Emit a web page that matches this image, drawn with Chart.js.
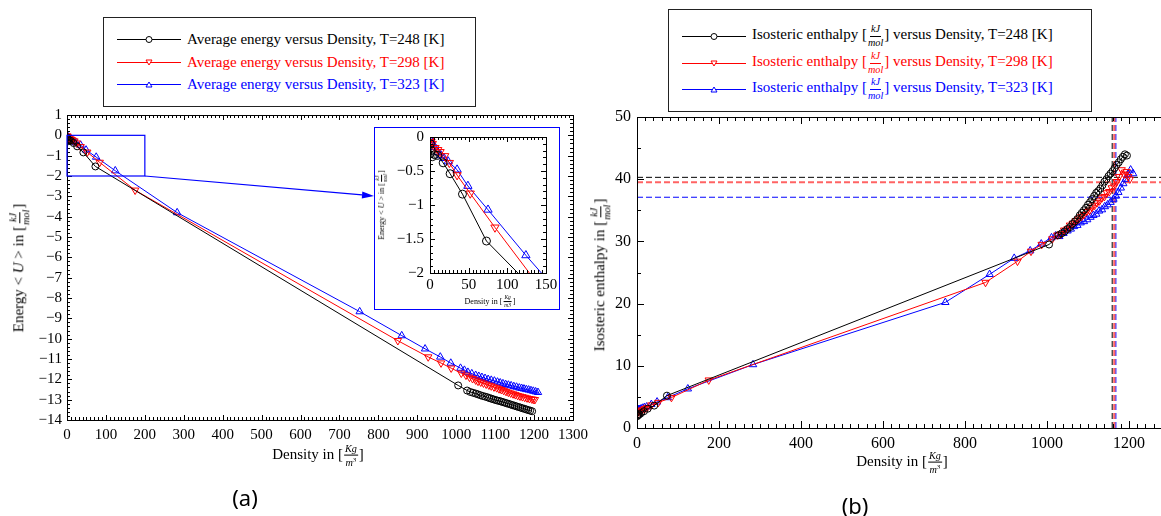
<!DOCTYPE html>
<html lang="de">
<head>
<meta charset="utf-8">
<title>Energie und isosterische Enthalpie</title>
<script src="https://cdn.jsdelivr.net/npm/chart.js@4.4.1/dist/chart.umd.min.js"></script>
<style>
  html, body { margin: 0; padding: 0; background: #fff; }
  body { position: relative; width: 1161px; height: 516px; overflow: hidden; font-family: 'Liberation Serif', 'Times New Roman', serif; color: #000; }
  canvas { position: absolute; }
  .legend { position: absolute; box-sizing: border-box; border: 1px solid #222; background: #fff; }
  .legend .row { position: absolute; left: 13px; height: 22px; display: flex; align-items: center; white-space: nowrap; font-size: 15px; }
  .legend svg { margin-right: 6px; }
  .frac { display: inline-flex; flex-direction: column; align-items: center; vertical-align: middle; font-size: 0.68em; line-height: 1; font-style: italic; margin: 0 1px; }
  .frac .num { border-bottom: 1px solid currentColor; padding: 0 1px 1px; }
  .frac .den { padding-top: 1px; }
  .title { position: absolute; white-space: nowrap; transform: translate(-50%, -50%); }
  .title.rot { transform: translate(-50%, -50%) rotate(-90deg); }
  .cap { position: absolute; font-family: 'Noto Sans', 'DejaVu Sans', sans-serif; font-size: 22px; transform: translate(-50%, -50%); }
  #insetBox { position: absolute; left: 374px; top: 127px; width: 186px; height: 183px; box-sizing: border-box; border: 1px solid #0000ff; background: #fff; }
</style>
</head>
<body>
<canvas id="chartA" style="left:0;top:105px" width="590" height="345"></canvas>
<canvas id="chartB" style="left:580px;top:105px" width="600" height="345"></canvas>

<div id="insetBox">
  <canvas id="chartInset" style="left:0;top:0" width="184" height="181"></canvas>
  <div class="title rot" style="left:7px;top:77px;font-size:8px">Energy &lt; <i>U</i> &gt; in [<span class="frac"><span class="num">kJ</span><span class="den">mol</span></span>]</div>
  <div class="title" style="left:115px;top:174px;font-size:8px">Density in [<span class="frac"><span class="num">Kg</span><span class="den">m3</span></span>]</div>
</div>

<div class="legend" id="legendA" style="left:103px;top:17px;width:373px;height:90px"></div>
<div class="legend" id="legendB" style="left:668px;top:9px;width:424px;height:103px"></div>

<div class="title rot" style="left:20px;top:268px;font-size:15px">Energy &lt; <i>U</i> &gt; in [<span class="frac"><span class="num">kJ</span><span class="den">mol</span></span>]</div>
<div class="title" style="left:318px;top:456px;font-size:15px">Density in [<span class="frac"><span class="num">Kg</span><span class="den">m<sup style="font-size:0.7em">3</sup></span></span>]</div>
<div class="title rot" style="left:601px;top:275px;font-size:15px">Isosteric enthalpy in [<span class="frac"><span class="num">kJ</span><span class="den">mol</span></span>]</div>
<div class="title" style="left:902px;top:463px;font-size:15px">Density in [<span class="frac"><span class="num">Kg</span><span class="den">m<sup style="font-size:0.7em">3</sup></span></span>]</div>

<div class="cap" style="left:245px;top:497px">(a)</div>
<div class="cap" style="left:855px;top:505px">(b)</div>

<script>
// Temperaturen und Farben
const temps = [248, 298, 323];
const colors = ['#000000', '#ff0000', '#0000ff'];

// T = 248 K : Dichte [kg/m3], Energie [kJ/mol], isosterische Enthalpie [kJ/mol]
const density248 = [0.5, 1.5, 3, 6, 10, 17, 26, 42, 73, 1005,
  1028, 1036, 1043, 1050, 1056, 1062, 1068, 1074, 1080, 1085,
  1090, 1095, 1100, 1105, 1110, 1115, 1120, 1125, 1130, 1135,
  1140, 1145, 1150, 1155, 1160, 1165, 1170, 1175, 1180, 1185, 1190, 1195];
const energy248 = [-0.1, -0.2, -0.29, -0.26, -0.27, -0.38, -0.54, -0.84, -1.53, -12.3,
  -12.55, -12.62, -12.66, -12.7, -12.74, -12.78, -12.82, -12.85, -12.88, -12.92,
  -12.95, -12.98, -13.01, -13.04, -13.06, -13.09, -13.12, -13.15, -13.18, -13.21,
  -13.24, -13.27, -13.3, -13.33, -13.36, -13.39, -13.42, -13.45, -13.48, -13.51, -13.54, -13.57];
const enthalpy248 = [1.9, 2.0, 2.1, 2.2, 2.4, 2.7, 3.1, 3.6, 5.2, 29.5,
  31.0, 31.3, 31.6, 32.0, 32.3, 32.8, 33.2, 33.6, 34.2, 34.6,
  35.0, 35.4, 35.9, 36.3, 36.8, 37.3, 37.8, 38.1, 38.5, 39.0,
  39.6, 40.0, 40.5, 40.9, 41.3, 41.8, 42.3, 42.7, 43.2, 43.6, 44.0, 43.8];

// T = 298 K
const density298 = [0.5, 1.3, 3, 6.5, 10, 13, 19, 25, 35, 52, 84, 175,
  850, 928, 961, 987,
  1013, 1025, 1034, 1042, 1050, 1056, 1063, 1070, 1077, 1084,
  1090, 1097, 1104, 1110, 1116, 1122, 1128, 1134, 1140, 1146,
  1152, 1158, 1164, 1170, 1176, 1182, 1188, 1194, 1198, 1202];
const energy298 = [-0.03, -0.07, -0.1, -0.16, -0.19, -0.22, -0.28, -0.38, -0.56, -0.83, -1.33, -2.7,
  -10.1, -10.9, -11.2, -11.45,
  -11.7, -11.8, -11.9, -11.97, -12.04, -12.1, -12.14, -12.19, -12.24, -12.29,
  -12.33, -12.38, -12.42, -12.47, -12.51, -12.55, -12.6, -12.64, -12.68, -12.72,
  -12.76, -12.8, -12.83, -12.86, -12.89, -12.92, -12.95, -12.97, -12.99, -13.0];
const enthalpy298 = [2.4, 2.5, 2.6, 2.7, 2.8, 2.9, 3.1, 3.3, 3.7, 4.1, 4.9, 7.7,
  23.4, 26.8, 28.4, 29.5,
  30.4, 31.0, 31.2, 31.8, 32.0, 32.6, 32.9, 33.3, 33.6, 34.0,
  34.3, 34.8, 35.0, 35.5, 35.8, 36.2, 36.5, 37.0, 37.2, 37.8,
  38.0, 38.6, 38.9, 39.6, 40.4, 41.5, 40.8, 41.2, 40.4, 40.0];

// T = 323 K
const density323 = [0.3, 1, 2, 3.5, 6, 10, 14, 18, 23.5, 35,
  49, 75, 124, 283,
  752, 860, 920, 959, 986,
  1011, 1021, 1030, 1040, 1050, 1058, 1066, 1074, 1082, 1090,
  1098, 1106, 1113, 1120, 1127, 1134, 1141, 1148, 1155, 1162,
  1168, 1174, 1180, 1186, 1192, 1198, 1204, 1210];
const energy323 = [-0.02, -0.04, -0.07, -0.1, -0.15, -0.22, -0.27, -0.31, -0.36, -0.48,
  -0.72, -1.07, -1.74, -3.8,
  -8.67, -9.85, -10.5, -10.9, -11.2,
  -11.45, -11.55, -11.65, -11.72, -11.8, -11.85, -11.9, -11.95, -12.0, -12.04,
  -12.08, -12.13, -12.17, -12.21, -12.25, -12.28, -12.31, -12.35, -12.38, -12.42,
  -12.44, -12.47, -12.5, -12.52, -12.55, -12.58, -12.61, -12.64];
const enthalpy323 = [2.7, 2.8, 2.9, 3.0, 3.0, 3.1, 3.2, 3.3, 3.4, 3.8,
  4.2, 4.9, 6.3, 10.2,
  20.2, 24.7, 27.3, 28.5, 29.6,
  30.6, 30.9, 30.8, 31.3, 31.7, 32.0, 32.4, 32.6, 33.0, 33.2,
  33.5, 33.9, 34.2, 34.4, 34.9, 35.1, 35.6, 35.9, 36.3, 36.8,
  37.3, 37.9, 38.6, 39.3, 40.0, 40.8, 41.5, 40.9];

// gestrichelte Referenzlinien in (b)
const refEnthalpy = [40.3, 39.5, 37.1];
const refDensity = [1159, 1164, 1168];

// Zoom-Rechteck in (a)
const zoomDensity = [0, 200];
const zoomEnergy = [-2, 0];

// Achsenbeschriftungen
const densityTicksA = [0, 100, 200, 300, 400, 500, 600, 700, 800, 900, 1000, 1100, 1200, 1300];
const energyTicksA = [1, 0, -1, -2, -3, -4, -5, -6, -7, -8, -9, -10, -11, -12, -13, -14];
const densityTicksInset = [0, 50, 100, 150];
const energyTicksInset = [0, -0.5, -1, -1.5, -2];
const densityTicksB = [0, 200, 400, 600, 800, 1000, 1200];
const enthalpyTicksB = [0, 10, 20, 30, 40, 50];

const densities = [density248, density298, density323];
const energies = [energy248, energy298, energy323];
const enthalpies = [enthalpy248, enthalpy298, enthalpy323];
const pointStyles = ['circle', 'triangle', 'triangle'];
const pointRotations = [0, 180, 0];

const SERIF = "'Liberation Serif', 'Times New Roman', serif";
const fmt = v => (v < 0 ? '\u2212' + Math.abs(v) : String(v));
const range = (a, b, step) => {
    const out = [];
    for (let v = a; v <= b + 1e-9; v += step) out.push(Math.round(v * 1000) / 1000);
    return out;
};
const toPoints = (xs, ys) => xs.map((x, i) => ({ x: x, y: ys[i] }));

function seriesSets(yArrays, radius) {
    return temps.map((t, i) => ({
        label: 'T=' + t + ' [K]',
        data: toPoints(densities[i], yArrays[i]),
        showLine: true,
        borderColor: colors[i],
        borderWidth: 1,
        backgroundColor: 'transparent',
        pointStyle: pointStyles[i],
        pointRotation: pointRotations[i],
        pointRadius: i === 0 ? radius : radius + 0.8,
        pointBorderWidth: 1,
        pointBorderColor: colors[i],
        pointBackgroundColor: 'transparent',
        tension: 0
    }));
}

// Rahmen + nach innen zeigende Ticks auf allen Seiten
const frameTicks = {
    id: 'frameTicks',
    afterDatasetsDraw(chart, args, o) {
        const { ctx, chartArea: a } = chart;
        const xs = chart.scales.x, ys = chart.scales.y;
        ctx.save();
        ctx.strokeStyle = '#000';
        ctx.lineWidth = 1;
        ctx.beginPath();
        const seg = (x1, y1, x2, y2) => { ctx.moveTo(x1, y1); ctx.lineTo(x2, y2); };
        const px = v => Math.round(xs.getPixelForValue(v)) + 0.5;
        const py = v => Math.round(ys.getPixelForValue(v)) + 0.5;
        o.xMinor.forEach(v => { const p = px(v); seg(p, a.bottom, p, a.bottom - o.minor); seg(p, a.top, p, a.top + o.minor); });
        o.xMajor.forEach(v => { const p = px(v); seg(p, a.bottom, p, a.bottom - o.major); seg(p, a.top, p, a.top + o.major); });
        o.yMinor.forEach(v => { const p = py(v); seg(a.left, p, a.left + o.minor, p); seg(a.right, p, a.right - o.minor, p); });
        o.yMajor.forEach(v => { const p = py(v); seg(a.left, p, a.left + o.major, p); seg(a.right, p, a.right - o.major, p); });
        ctx.stroke();
        ctx.lineWidth = o.frame || 1;
        ctx.strokeRect(Math.round(a.left) + 0.5, Math.round(a.top) + 0.5, Math.round(a.right - a.left), Math.round(a.bottom - a.top));
        ctx.restore();
    }
};

// blaues Rechteck + Pfeil zum Ausschnitt
const zoomMark = {
    id: 'zoomMark',
    afterDatasetsDraw(chart) {
        const { ctx, scales: { x, y } } = chart;
        const x0 = x.getPixelForValue(zoomDensity[0]), x1 = x.getPixelForValue(zoomDensity[1]);
        const y0 = y.getPixelForValue(zoomEnergy[1]), y1 = y.getPixelForValue(zoomEnergy[0]);
        ctx.save();
        ctx.strokeStyle = '#0000ff';
        ctx.fillStyle = '#0000ff';
        ctx.lineWidth = 1.2;
        ctx.strokeRect(x0, y0, x1 - x0, y1 - y0);
        const tipX = 374, tipY = 91;
        const ang = Math.atan2(tipY - y1, tipX - x1);
        const bx = tipX - 12 * Math.cos(ang), by = tipY - 12 * Math.sin(ang);
        ctx.beginPath();
        ctx.moveTo(x1, y1);
        ctx.lineTo(bx, by);
        ctx.stroke();
        ctx.beginPath();
        ctx.moveTo(tipX, tipY);
        ctx.lineTo(bx - 3.5 * Math.sin(ang), by + 3.5 * Math.cos(ang));
        ctx.lineTo(bx + 3.5 * Math.sin(ang), by - 3.5 * Math.cos(ang));
        ctx.closePath();
        ctx.fill();
        ctx.restore();
    }
};

function axis(min, max, ticks, fontSize, padding, fit) {
    return {
        type: 'linear',
        min: min,
        max: max,
        grid: { display: false, drawTicks: false },
        border: { display: false },
        ticks: {
            color: '#000',
            font: { family: SERIF, size: fontSize },
            padding: padding,
            maxRotation: 0,
            autoSkip: false,
            callback: v => fmt(v)
        },
        afterBuildTicks: s => { s.ticks = ticks.map(v => ({ value: v })); },
        afterFit: s => {
            if (fit.width !== undefined) s.width = fit.width;
            if (fit.height !== undefined) s.height = fit.height;
            s.paddingLeft = 0; s.paddingRight = 0; s.paddingTop = 0; s.paddingBottom = 0;
        }
    };
}

function baseOptions(padding, xAxis, yAxis, ticksOpt) {
    return {
        responsive: false,
        animation: false,
        layout: { padding: padding },
        scales: { x: xAxis, y: yAxis },
        plugins: { legend: { display: false }, tooltip: { enabled: false }, frameTicks: ticksOpt }
    };
}

// (a) Energie
new Chart(document.getElementById('chartA'), {
    type: 'scatter',
    data: { datasets: seriesSets(energies, 3.5) },
    options: baseOptions(
        { top: 10, right: 17, left: 0, bottom: 0 },
        axis(0, 1300, densityTicksA, 15, 6, { height: 30 }),
        axis(-14, 1, energyTicksA, 15, 5, { width: 67 }),
        { xMajor: densityTicksA, xMinor: range(0, 1300, 10), yMajor: energyTicksA, yMinor: range(-14, 1, 0.2), major: 5, minor: 3 }
    ),
    plugins: [frameTicks, zoomMark]
});

// Ausschnitt
new Chart(document.getElementById('chartInset'), {
    type: 'scatter',
    data: { datasets: seriesSets(energies, 4) },
    options: baseOptions(
        { top: 9, right: 13, left: 0, bottom: 0 },
        axis(0, 150, densityTicksInset, 15, 3, { height: 36 }),
        axis(-2, 0, energyTicksInset, 15, 6, { width: 55 }),
        { xMajor: densityTicksInset, xMinor: range(0, 150, 5), yMajor: energyTicksInset, yMinor: range(-2, 0, 0.1), major: 5, minor: 3 }
    ),
    plugins: [frameTicks]
});

// (b) isosterische Enthalpie + Referenzlinien
const refSets = [];
temps.forEach((t, i) => {
    const style = {
        showLine: true,
        borderColor: i === 1 ? 'rgba(255,60,60,0.8)' : colors[i],
        borderWidth: i === 1 ? 2 : 1,
        borderDash: [6, 3],
        pointRadius: 0,
        tension: 0
    };
    refSets.push(Object.assign({ data: [{ x: 0, y: refEnthalpy[i] }, { x: 1300, y: refEnthalpy[i] }] }, style));
    refSets.push(Object.assign({ data: [{ x: refDensity[i], y: 0 }, { x: refDensity[i], y: 50 }] }, style));
});

new Chart(document.getElementById('chartB'), {
    type: 'scatter',
    data: { datasets: seriesSets(enthalpies, 3.5).concat(refSets) },
    options: baseOptions(
        { top: 12, right: 10, left: 0, bottom: 0 },
        axis(0, 1300, densityTicksB, 16, 6, { height: 22 }),
        axis(0, 50, enthalpyTicksB, 16, 6, { width: 57 }),
        { xMajor: densityTicksB, xMinor: range(0, 1300, 20), yMajor: enthalpyTicksB, yMinor: range(0, 50, 5), major: 7, minor: 4 }
    ),
    plugins: [frameTicks]
});

// Legenden (HTML, wegen der Brüche)
function markerSvg(i) {
    const c = colors[i];
    let m;
    if (i === 0) m = `<circle cx="32" cy="6.5" r="3" fill="#fff" stroke="${c}"/>`;
    else if (i === 1) m = `<path d="M29 4 L35 4 L32 9 Z" fill="#fff" stroke="${c}"/>`;
    else m = `<path d="M29 9 L35 9 L32 4 Z" fill="#fff" stroke="${c}"/>`;
    return `<svg width="64" height="13"><line x1="0" y1="6.5" x2="64" y2="6.5" stroke="${c}" stroke-width="1"/>${m}</svg>`;
}

const legendRowsA = [21, 44, 66];
const legendRowsB = [26, 53, 79];
const kjmol = '<span class="frac"><span class="num">kJ</span><span class="den">mol</span></span>';

temps.forEach((t, i) => {
    const rowA = document.createElement('div');
    rowA.className = 'row';
    rowA.style.top = (legendRowsA[i] - 11) + 'px';
    rowA.style.color = colors[i];
    rowA.innerHTML = markerSvg(i) + `<span>Average energy versus Density, T=${t} [K]</span>`;
    document.getElementById('legendA').appendChild(rowA);

    const rowB = document.createElement('div');
    rowB.className = 'row';
    rowB.style.top = (legendRowsB[i] - 11) + 'px';
    rowB.style.color = colors[i];
    rowB.innerHTML = markerSvg(i) + `<span>Isosteric enthalpy [${kjmol}] versus Density, T=${t} [K]</span>`;
    document.getElementById('legendB').appendChild(rowB);
});
</script>
</body>
</html>
